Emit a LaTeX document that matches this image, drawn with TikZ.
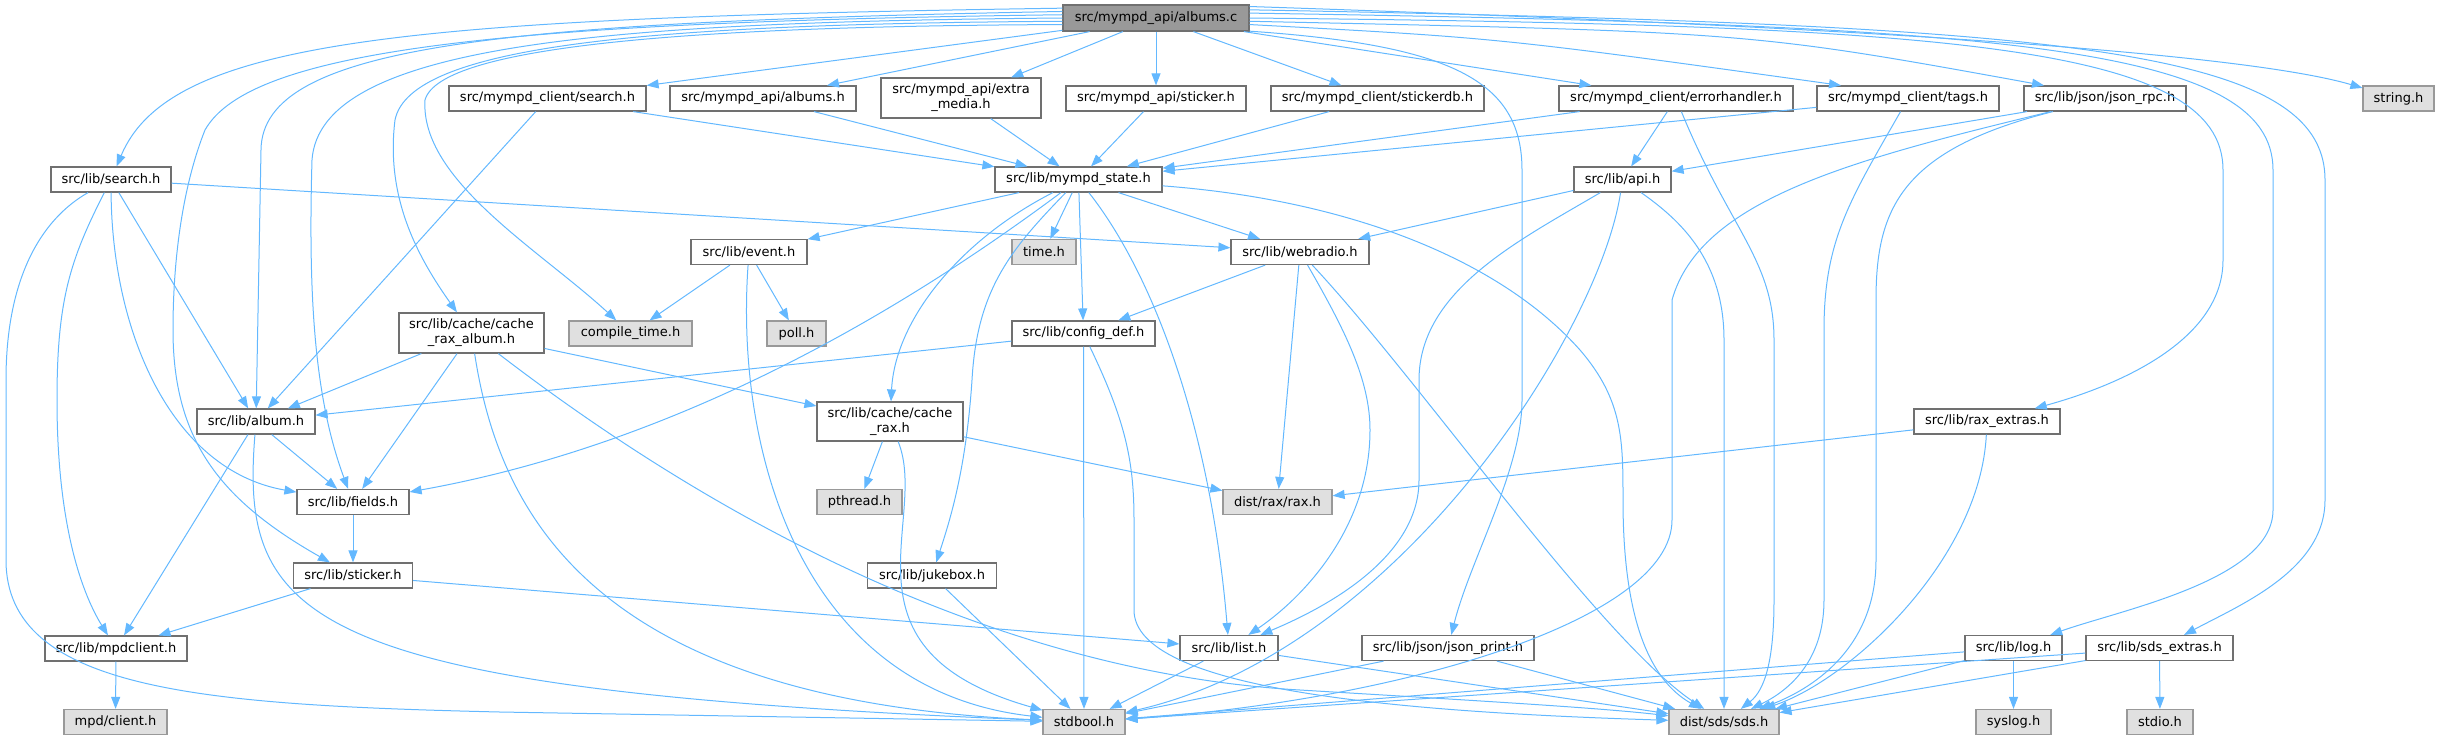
\documentclass[tikz,border=0pt]{standalone}
\usepackage{fontspec}
\setmainfont{DejaVu Sans}
\usetikzlibrary{arrows.meta,calc}
\definecolor{edgecol}{HTML}{63B8FF}
\definecolor{nodeborder}{HTML}{707070}
\definecolor{sysfill}{HTML}{E0E0E0}
\definecolor{sysborder}{HTML}{999999}
\definecolor{rootfill}{HTML}{999999}
\begin{document}
\begin{tikzpicture}[x=1pt,y=-1pt,
  box/.style={draw=nodeborder, fill=white, line width=1.2pt, inner sep=0pt,
    minimum height=25pt, font=\fontsize{13}{15}\selectfont, align=center, text=black},
  sys/.style={box, fill=sysfill, draw=sysborder},
  rootbox/.style={box, fill=rootfill, draw=nodeborder, minimum height=26pt},
  edge/.style={draw=edgecol, line width=1pt, -{Triangle[length=12pt,width=9pt]}}]
\useasboundingbox (0,0) rectangle (2439,740);
% row 0
\node[rootbox, minimum width=186pt] (root) at (1156,18) {src/mympd\_api/albums.c};
% row 1
\node[box, minimum width=197pt] (csearch) at (547.5,98.5) {src/mympd\_client/search.h};
\node[box, minimum width=186pt] (aalbums) at (763,98.5) {src/mympd\_api/albums.h};
\node[box, minimum width=160pt, minimum height=40pt] (extra) at (961,98) {src/mympd\_api/extra\\\_media.h};
\node[box, minimum width=180pt] (asticker) at (1156,98.5) {src/mympd\_api/sticker.h};
\node[box, minimum width=213pt] (stickerdb) at (1377.5,98.5) {src/mympd\_client/stickerdb.h};
\node[box, minimum width=234pt] (errh) at (1676,98.5) {src/mympd\_client/errorhandler.h};
\node[box, minimum width=182pt] (tags) at (1908,98.5) {src/mympd\_client/tags.h};
\node[box, minimum width=162pt] (jsonrpc) at (2105,98.5) {src/lib/json/json\_rpc.h};
\node[sys, minimum width=71pt] (string) at (2398.5,98.5) {string.h};
% row 2
\node[box, minimum width=120pt] (lsearch) at (111,179.5) {src/lib/search.h};
\node[box, minimum width=167pt] (state) at (1078.5,179.5) {src/lib/mympd\_state.h};
\node[box, minimum width=97pt] (api) at (1622.5,179.5) {src/lib/api.h};
% row 3
\node[box, minimum width=116pt] (event) at (749,252) {src/lib/event.h};
\node[sys, minimum width=64pt] (time) at (1044,252) {time.h};
\node[box, minimum width=138pt] (webradio) at (1300,252) {src/lib/webradio.h};
% row 4
\node[box, minimum width=145pt, minimum height=40pt] (cra) at (471.5,333) {src/lib/cache/cache\\\_rax\_album.h};
\node[sys, minimum width=123pt] (compile) at (630.5,333.5) {compile\_time.h};
\node[sys, minimum width=59pt] (poll) at (796.5,333.5) {poll.h};
\node[box, minimum width=143pt] (config) at (1083.5,333.5) {src/lib/config\_def.h};
% row 5
\node[box, minimum width=118pt] (album) at (256,421.5) {src/lib/album.h};
\node[box, minimum width=146pt, minimum height=39pt] (crax) at (890,421.5) {src/lib/cache/cache\\\_rax.h};
\node[box, minimum width=146pt] (raxex) at (1987,421.5) {src/lib/rax\_extras.h};
% row 6
\node[box, minimum width=112pt] (fields) at (353,502) {src/lib/fields.h};
\node[sys, minimum width=85pt] (pthread) at (859.5,502) {pthread.h};
\node[sys, minimum width=109pt] (rax) at (1277.5,502) {dist/rax/rax.h};
% row 7
\node[box, minimum width=119pt] (lsticker) at (353,575.5) {src/lib/sticker.h};
\node[box, minimum width=129pt] (jukebox) at (932,575.5) {src/lib/jukebox.h};
% row 8
\node[box, minimum width=142pt] (mpdclient) at (116,648.5) {src/lib/mpdclient.h};
\node[box, minimum width=98pt] (list) at (1229,648) {src/lib/list.h};
\node[box, minimum width=172pt] (jprint) at (1448,648) {src/lib/json/json\_print.h};
\node[box, minimum width=97pt] (log) at (2013.5,648) {src/lib/log.h};
\node[box, minimum width=147pt] (sdsex) at (2159.5,648) {src/lib/sds\_extras.h};
% row 9
\node[sys, minimum width=103pt] (mpdc) at (115.5,722) {mpd/client.h};
\node[sys, minimum width=82pt] (stdbool) at (1084,722) {stdbool.h};
\node[sys, minimum width=110pt] (sds) at (1724,722) {dist/sds/sds.h};
\node[sys, minimum width=75pt] (syslog) at (2013.5,722) {syslog.h};
\node[sys, minimum width=66pt] (stdio) at (2160,722) {stdio.h};

% ---- edges from root
\draw[edge] (root) -- (csearch);
\draw[edge] (root) -- (aalbums);
\draw[edge] (root) -- (extra);
\draw[edge] (root) -- (asticker);
\draw[edge] (root) -- (stickerdb);
\draw[edge] (root) -- (errh);
\draw[edge] (root.-4) .. controls (1500,38) .. ([xshift=-67pt]tags.north);
\draw[edge] (root.-2) .. controls (1750,32) .. ([xshift=-61pt]jsonrpc.north);
\draw[edge] (root.7) .. controls (1900,28) and (2250,55) .. (string);
\draw[edge] (root.174) .. controls (400,18) and (170,40) .. (lsearch);
\draw[edge] (root.176) .. controls (500,22) and (262,45) .. (261,150) -- (album);
\draw[edge] (root.178) .. controls (500,22) and (250,50) .. (205,130) .. controls (185,180) and (173,250) .. (173,330) .. controls (173,440) and (220,500) .. (lsticker);
\draw[edge] (root.180) .. controls (600,22) and (320,45) .. (312,160) .. controls (308,300) and (315,400) .. (fields);
\draw[edge] (root.182) .. controls (650,24) and (410,45) .. (395,120) .. controls (385,200) and (420,260) .. (cra);
\draw[edge] (root.184) .. controls (700,26) and (440,45) .. (425,100) .. controls (420,180) and (540,250) .. (compile);
\draw[edge] (root.-8) .. controls (1450,45) and (1522,80) .. (1522,170) -- (1522,400) .. controls (1522,470) and (1470,560) .. (jprint);
\draw[edge] (root.0) .. controls (1950,25) and (2223,45) .. (2223,170) -- (2223,260) .. controls (2223,340) and (2120,385) .. (raxex);
\draw[edge] (root.3) .. controls (2000,25) and (2273,45) .. (2273,170) -- (2273,510) .. controls (2273,580) and (2120,610) .. (log);
\draw[edge] (root.5) .. controls (2050,25) and (2325,45) .. (2325,180) -- (2325,500) .. controls (2325,570) and (2240,605) .. (sdsex);

% ---- row 1 sources
\draw[edge] (csearch) -- (state);
\draw[edge] (csearch) -- (album);
\draw[edge] (aalbums) -- (state);
\draw[edge] (extra) -- (state);
\draw[edge] (asticker) -- (state);
\draw[edge] (stickerdb) -- (state);
\draw[edge] (errh) -- (state);
\draw[edge] (errh) -- (api);
\draw[edge] (errh) .. controls (1730,230) and (1774,260) .. (1774,340) -- (1774,600) .. controls (1774,660) and (1765,690) .. (sds);
\draw[edge] (tags) -- (state);
\draw[edge] (tags) .. controls (1850,200) and (1824,240) .. (1824,330) -- (1824,600) .. controls (1824,660) and (1790,690) .. (sds);
\draw[edge] (jsonrpc) -- (api);
\draw[edge] (jsonrpc) .. controls (1900,150) and (1876,210) .. (1876,300) -- (1876,560) .. controls (1876,650) and (1810,690) .. (sds);
\draw[edge] (jsonrpc) .. controls (1850,160) and (1700,200) .. (1672,300) -- (1672,520) .. controls (1672,620) and (1400,700) .. (stdbool);

% ---- row 2 sources
\draw[edge] (lsearch) -- (webradio);
\draw[edge] (lsearch) -- (album);
\draw[edge] (lsearch) .. controls (70,260) and (57,300) .. (57,400) .. controls (57,520) and (80,590) .. (mpdclient);
\draw[edge] (lsearch) .. controls (40,220) and (6,280) .. (6,380) -- (6,560) .. controls (6,690) and (200,705) .. (500,712) -- (stdbool);
\draw[edge] (lsearch) .. controls (112,330) and (170,470) .. (fields);
\draw[edge] (state) -- (event);
\draw[edge] (state) -- (time);
\draw[edge] (state) -- (webradio);
\draw[edge] (state) -- (config);
\draw[edge] (state) .. controls (960,240) and (895,320) .. (crax);
\draw[edge] (state) .. controls (1010,250) and (977,290) .. (972,380) .. controls (966,470) and (950,520) .. (jukebox);
\draw[edge] (state) .. controls (1150,270) and (1210,420) .. (list);
\draw[edge] (state) .. controls (930,290) and (700,440) .. (fields);
\draw[edge] (state) .. controls (1350,200) and (1500,260) .. (1580,350) .. controls (1623,400) and (1623,440) .. (1623,500) .. controls (1623,620) and (1650,680) .. (sds);
\draw[edge] (api) -- (webradio);
\draw[edge] (api) .. controls (1520,240) and (1419,290) .. (1419,380) -- (1419,480) .. controls (1419,560) and (1320,610) .. (list);
\draw[edge] (api) .. controls (1600,330) and (1400,650) .. (stdbool);
\draw[edge] (api) .. controls (1680,220) and (1724,260) .. (1724,340) -- (sds);

% ---- row 3 sources
\draw[edge] (event) -- (compile);
\draw[edge] (event) -- (poll);
\draw[edge] (event) .. controls (735,450) and (800,690) .. (stdbool);
\draw[edge] (webradio) -- (config);
\draw[edge] (webradio) -- (rax);
\draw[edge] (webradio) .. controls (1345,330) and (1370,380) .. (1370,430) .. controls (1370,530) and (1300,600) .. (list);
\draw[edge] (webradio) .. controls (1420,380) and (1600,640) .. (sds);

% ---- row 4 sources
\draw[edge] (cra) -- (album);
\draw[edge] (cra) -- (fields);
\draw[edge] (cra) -- (crax);
\draw[edge] (cra) .. controls (500,520) and (600,700) .. (stdbool);
\draw[edge] (cra) .. controls (650,470) and (950,670) .. (1300,690) .. controls (1500,702) and (1600,708) .. (sds);
\draw[edge] (config) -- (album);
\draw[edge] (config) -- (stdbool);
\draw[edge] (config) .. controls (1125,420) and (1134,460) .. (1134,520) -- (1134,610) .. controls (1134,690) and (1400,712) .. (sds);

% ---- row 5 sources
\draw[edge] (album) -- (mpdclient);
\draw[edge] (album) -- (fields);
\draw[edge] (album) .. controls (240,620) and (300,690) .. (stdbool);
\draw[edge] (crax) -- (pthread);
\draw[edge] (crax) -- (rax);
\draw[edge] (crax) .. controls (930,520) and (830,650) .. (stdbool);
\draw[edge] (raxex) -- (rax);
\draw[edge] (raxex) .. controls (1980,560) and (1850,680) .. (sds);

% ---- lower rows
\draw[edge] (fields) -- (lsticker);
\draw[edge] (lsticker) -- (mpdclient);
\draw[edge] (lsticker) -- (list);
\draw[edge] (jukebox) -- (stdbool);
\draw[edge] (mpdclient) -- (mpdc);
\draw[edge] (list) -- (stdbool);
\draw[edge] (list) -- (sds);
\draw[edge] (jprint) -- (stdbool);
\draw[edge] (jprint) -- (sds);
\draw[edge] (log) -- (stdbool);
\draw[edge] (log) -- (sds);
\draw[edge] (log) -- (syslog);
\draw[edge] (sdsex) -- (stdbool);
\draw[edge] (sdsex) -- (sds);
\draw[edge] (sdsex) -- (stdio);
\end{tikzpicture}
\end{document}
